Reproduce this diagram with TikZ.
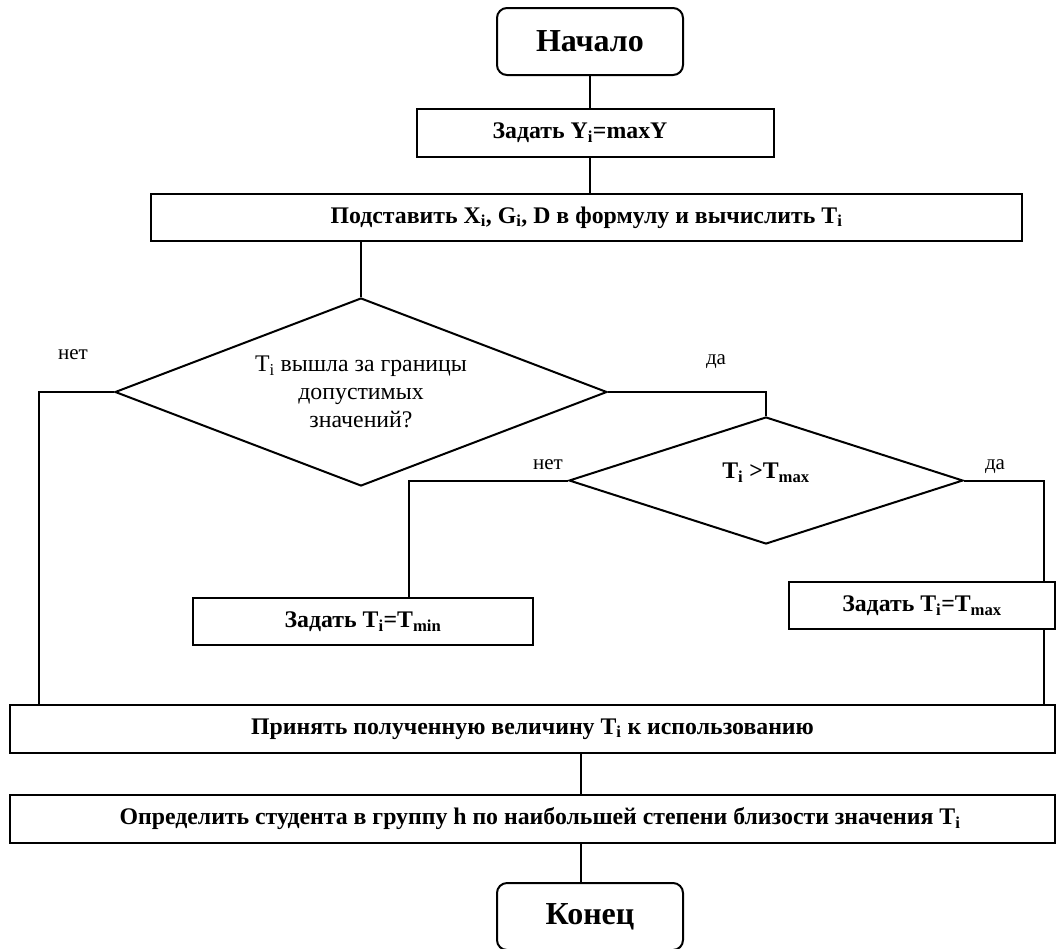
\documentclass[tikz,border=0pt]{standalone}
\usepackage{fontspec}
\setmainfont{Liberation Serif}
\usetikzlibrary{shapes.geometric}
\newcommand{\ix}[1]{\textsubscript{#1}}

\begin{document}
\begin{tikzpicture}[x=1pt,y=-1pt,
  txt/.style={font=\fontsize{23.8}{28}\selectfont},
  proc/.style={draw, line width=2pt, rectangle, inner sep=0pt,
    font=\fontsize{23.8}{28}\selectfont\bfseries},
  term/.style={draw, line width=2pt, rounded corners=10pt, inner sep=0pt,
    minimum width=186pt, minimum height=67pt,
    font=\fontsize{32}{38}\selectfont\bfseries},
  decide/.style={draw, diamond, line width=2pt, inner sep=0pt, aspect=2.6,
    align=center},
  link/.style={line width=2pt},
  lbl/.style={inner sep=0pt, font=\fontsize{21}{25}\selectfont}
]
\useasboundingbox (0,0) rectangle (1056,948);

% blocks
\node[term] (start) at (590,41.5) {Начало};
\node[proc, minimum width=357pt, minimum height=48pt] (setY) at (595.5,133)
  {\hspace*{-31pt}Задать Y\ix{i}=maxY};
\node[proc, minimum width=871pt, minimum height=47pt] (subst) at (586.5,217.5)
  {Подставить X\ix{i}, G\ix{i}, D в формулу и вычислить T\ix{i}};
\node[decide, minimum width=492pt, minimum height=188pt, txt] (cond1) at (361,392)
  {T\ix{i} вышла за границы\\допустимых\\значений?};
\node[decide, minimum width=394pt, minimum height=127pt,
  text height=17pt, text depth=21pt,
  font=\fontsize{23.8}{28}\selectfont\bfseries] (cond2) at (766,480.5)
  {T\ix{i} >T\ix{max}};
\node[proc, minimum width=340pt, minimum height=47pt] (setMin) at (363,621.5)
  {Задать T\ix{i}=T\ix{min}};
\node[proc, minimum width=266pt, minimum height=47pt] (setMax) at (922,605.5)
  {Задать T\ix{i}=T\ix{max}};
\node[proc, minimum width=1045pt, minimum height=48pt] (accept) at (532.5,729)
  {Принять полученную величину T\ix{i} к использованию};
\node[proc, minimum width=1045pt, minimum height=48pt] (assign) at (532.5,819)
  {\hspace*{15pt}Определить студента в группу h по наибольшей степени близости значения T\ix{i}};
\node[term] (finish) at (590,916.5) {Конец};

% vertical routes
\coordinate (lcol) at (39,0);
\coordinate (mcol) at (409,0);
\coordinate (rcol) at (1044,0);
\coordinate (ccol) at (581,0);

% connectors
\draw[link] (start.south) -- (start.south |- setY.north);
\draw[link] (setY.south -| start.south) -- (subst.north -| start.south);
\draw[link] (subst.south -| cond1.north) -- (cond1.north);
\draw[link] (cond1.west) -| (lcol |- accept.north);
\draw[link] (cond1.east) -| (cond2.north);
\draw[link] (cond2.west) -| (mcol |- setMin.north);
\draw[link] (cond2.east) -| (rcol |- setMax.north);
\draw[link] (rcol |- setMax.south) -- (rcol |- accept.north);
\draw[link] (accept.south -| ccol) -- (assign.north -| ccol);
\draw[link] (assign.south -| ccol) -- (finish.north -| ccol);

% branch labels
\node[lbl] (no1) at (73,355) {нет};
\node[lbl] (yes1) at (716,362) {да};
\node[lbl] (no2) at (548,465) {нет};
\node[lbl] (yes2) at (995,467) {да};
\end{tikzpicture}
\end{document}
